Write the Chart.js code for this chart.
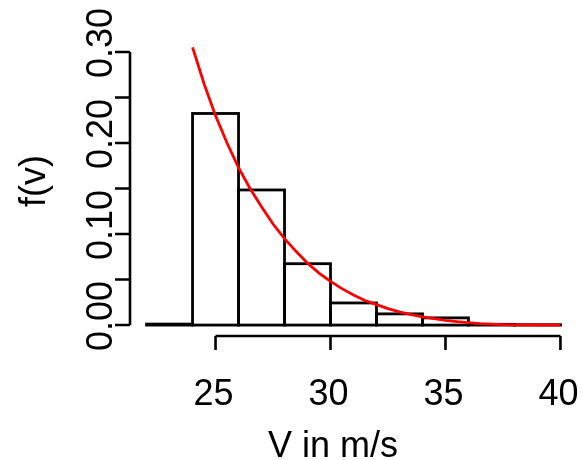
<!DOCTYPE html>
<html>
<head>
<meta charset="utf-8">
<script src="https://cdn.jsdelivr.net/npm/chart.js@4"></script>
<style>
  html, body { margin: 0; padding: 0; background: #fff; }
  #wrap { width: 582px; height: 460px; }
</style>
</head>
<body>
<div id="wrap"><canvas id="histChart" width="582" height="460"></canvas></div>
<script>
// Histogram of wind speed, bins of 2 m/s
const binStarts = [22, 24, 26, 28, 30, 32, 34, 36, 38];
const binWidth = 2;
const binDensity = [0.0011, 0.2324, 0.1484, 0.0674, 0.0243, 0.0123, 0.0079, 0.0008, 0.0004];

// Fitted density curve (red)
const curveV = [24, 24.5, 25, 25.5, 26, 26.5, 27, 27.5, 28, 28.5, 29, 29.5, 30, 30.5, 31, 31.5,
  32, 32.5, 33, 33.5, 34, 34.5, 35, 35.5, 36, 36.5, 37, 37.5, 38, 39, 40];
const curveF = [0.305, 0.265, 0.230, 0.200, 0.173, 0.150, 0.130, 0.111, 0.095, 0.081, 0.068, 0.057,
  0.048, 0.040, 0.033, 0.027, 0.0225, 0.018, 0.0145, 0.0115, 0.009, 0.007, 0.0052, 0.0037,
  0.0026, 0.0017, 0.0011, 0.0006, 0.0003, 0.0001, 0.0];

// Axis ticks and labels
const xTicks = [25, 30, 35, 40];
const yTicks = [0, 0.05, 0.10, 0.15, 0.20, 0.25, 0.30];
const yLabelTicks = [0, 0.10, 0.20, 0.30];
const yLabels = ["0.00", "0.10", "0.20", "0.30"];
const xTitle = "V in m/s";
const yTitle = "f(v)";

// plot region limits (R style: 4% extension)
const xMin = 21.28, xMax = 40.72;
const yMin = -0.012, yMax = 0.312;

const FONT = '36px "Liberation Sans", Arial, sans-serif';

// R's hist draws each rectangle with a centered outline
const histOutline = {
  id: "histOutline",
  afterDatasetDraw(chart, args) {
    if (args.index !== 0) return;
    const c = chart.ctx;
    c.save();
    c.strokeStyle = "#000";
    c.lineWidth = 2.8;
    args.meta.data.forEach((bar) => {
      const { x, y, base, width } = bar.getProps(["x", "y", "base", "width"], true);
      c.strokeRect(x - width / 2, y, width, base - y);
    });
    c.restore();
  },
};

// Detached axes like base R graphics
const rAxes = {
  id: "rAxes",
  afterDraw(chart) {
    const c = chart.ctx;
    const xs = chart.scales.x;
    const ys = chart.scales.y;
    const area = chart.chartArea;
    const tick = 14;
    c.save();
    c.strokeStyle = "#000";
    c.fillStyle = "#000";
    c.lineWidth = 2.6;
    c.lineCap = "butt";

    // x axis
    const ax = area.bottom;
    c.beginPath();
    c.moveTo(xs.getPixelForValue(xTicks[0]), ax);
    c.lineTo(xs.getPixelForValue(xTicks[xTicks.length - 1]), ax);
    xTicks.forEach((t) => {
      const px = xs.getPixelForValue(t);
      c.moveTo(px, ax);
      c.lineTo(px, ax + tick);
    });
    c.stroke();

    c.font = FONT;
    c.textAlign = "center";
    c.textBaseline = "alphabetic";
    xTicks.forEach((t) => {
      c.fillText(String(t), xs.getPixelForValue(t) - 2, 405);
    });
    c.fillText(xTitle, 333, 457);

    // y axis
    const ay = area.left;
    c.beginPath();
    c.moveTo(ay, ys.getPixelForValue(yTicks[0]));
    c.lineTo(ay, ys.getPixelForValue(yTicks[yTicks.length - 1]));
    yTicks.forEach((t) => {
      const py = ys.getPixelForValue(t);
      c.moveTo(ay, py);
      c.lineTo(ay - tick - 1, py);
    });
    c.stroke();

    yLabelTicks.forEach((t, i) => {
      c.save();
      c.translate(112, ys.getPixelForValue(t) - 9);
      c.rotate(-Math.PI / 2);
      c.fillText(yLabels[i], 0, 0);
      c.restore();
    });

    c.save();
    c.translate(45, 181);
    c.rotate(-Math.PI / 2);
    c.fillText(yTitle, 0, 0);
    c.restore();

    c.restore();
  },
};

const ctx = document.getElementById("histChart").getContext("2d");
const histChart = new Chart(ctx, {
  data: {
    datasets: [
      {
        type: "bar",
        label: "hist",
        data: binStarts.map((s, i) => ({ x: s + binWidth / 2, y: binDensity[i] })),
        backgroundColor: "#ffffff",
        borderWidth: 0,
        barPercentage: 1,
        categoryPercentage: 1,
        order: 2,
      },
      {
        type: "line",
        label: "density",
        data: curveV.map((v, i) => ({ x: v, y: curveF[i] })),
        borderColor: "#ff0000",
        borderWidth: 2.8,
        pointRadius: 0,
        tension: 0,
        fill: false,
        order: 1,
      },
    ],
  },
  options: {
    responsive: false,
    animation: false,
    devicePixelRatio: 1,
    layout: { padding: { left: 130, right: 5, top: 41, bottom: 124 } },
    plugins: { legend: { display: false }, tooltip: { enabled: false } },
    scales: {
      x: { type: "linear", min: xMin, max: xMax, offset: false, display: false },
      y: { type: "linear", min: yMin, max: yMax, display: false },
    },
  },
  plugins: [histOutline, rAxes],
});
</script>
</body>
</html>
